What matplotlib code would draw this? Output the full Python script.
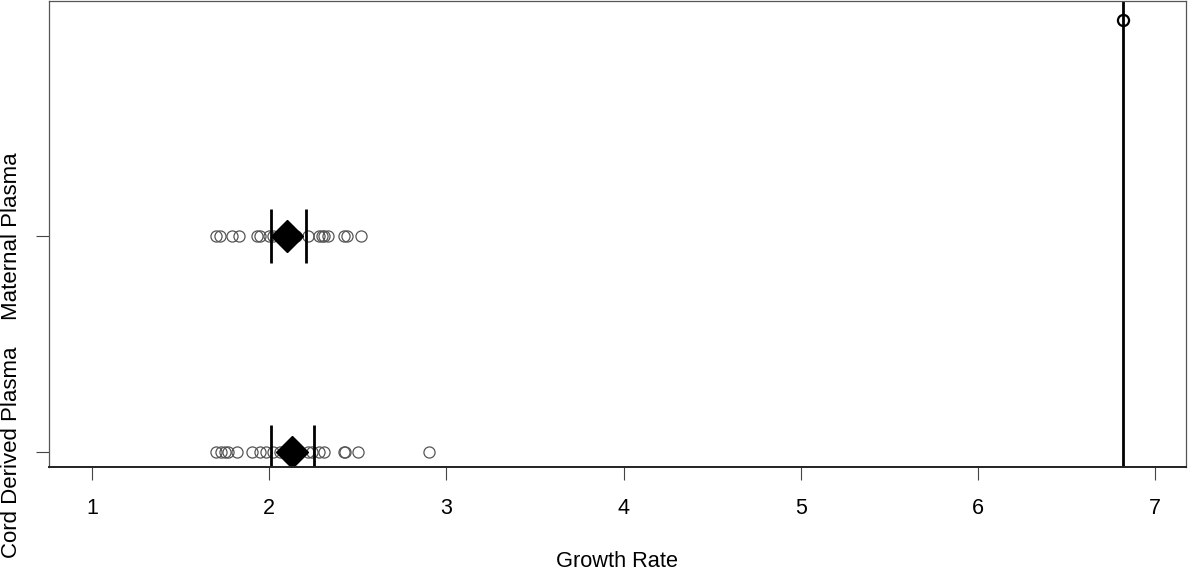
import numpy as np
import matplotlib.pyplot as plt

plt.rcParams['font.family'] = ['Liberation Sans', 'DejaVu Sans']

# growth rates
cord = [1.70, 1.73, 1.75, 1.77, 1.82, 1.90, 1.95, 1.98, 2.02, 2.06, 2.11, 2.16,
        2.22, 2.24, 2.28, 2.31, 2.42, 2.43, 2.50, 2.90]
maternal = [1.70, 1.72, 1.79, 1.83, 1.93, 1.95, 2.00, 2.02, 2.08, 2.15, 2.22,
            2.28, 2.30, 2.31, 2.33, 2.42, 2.44, 2.52]
outlier = [6.82]

means = [2.13, 2.10]
lo = [2.01, 2.01]
hi = [2.25, 2.21]
vline_x = 6.82

groups = ['Cord Derived Plasma', 'Maternal Plasma']
xticks = [1, 2, 3, 4, 5, 6, 7]

fig = plt.figure(figsize=(12, 5.72), dpi=100)
ax = fig.add_axes([49/1200, 1 - 467/572, 1137/1200, 466/572])

ax.plot(cord, [1] * len(cord), 'o', ms=8, mfc='none', mec='#555555', mew=0.9)
ax.plot(maternal, [2] * len(maternal), 'o', ms=8, mfc='none', mec='#555555', mew=0.9)
ax.plot(outlier, [3], 'o', ms=8, mfc='none', mec='black', mew=1.6)

ax.axvline(vline_x, color='black', lw=2)

ypos = [1, 2]
ax.vlines(lo, [y - 0.125 for y in ypos], [y + 0.125 for y in ypos], color='black', lw=2)
ax.vlines(hi, [y - 0.125 for y in ypos], [y + 0.125 for y in ypos], color='black', lw=2)
ax.plot(means, ypos, 'D', ms=16, color='black')

ax.set_xlim(0.757, 7.174)
ax.set_ylim(0.931, 3.088)
ax.set_xticks(xticks)
ax.set_yticks(ypos)
ax.set_yticklabels(groups, rotation=90, va='center', fontsize=16)
ax.tick_params(axis='both', length=9.5, width=0.8, color='#444444')
ax.tick_params(axis='x', pad=13, labelsize=15.5)
ax.tick_params(axis='y', pad=10)
for s in ax.spines.values():
    s.set_color('#555555')
    s.set_linewidth(0.9)
ax.spines['bottom'].set_color('#222222')
ax.spines['bottom'].set_linewidth(1.4)

ax.set_xlabel('Growth Rate', fontsize=15.7, labelpad=23)

fig.savefig('out.png', dpi=100)
